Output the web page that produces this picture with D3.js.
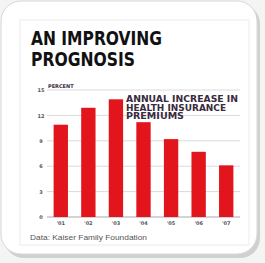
<!DOCTYPE html>
<html><head><meta charset="utf-8">
<script src="https://cdn.jsdelivr.net/npm/d3@7"></script>
<style>html,body{margin:0;padding:0;background:#f4f4f2;}svg{display:block;}</style>
</head><body>
<script>
const categories = ["'01","'02","'03","'04","'05","'06","'07"];
const values = [10.9, 12.9, 13.9, 11.2, 9.2, 7.7, 6.1];
const yTicks = [0, 3, 6, 9, 12, 15];
const titleLines = ["AN IMPROVING", "PROGNOSIS"];
const noteLines = ["ANNUAL INCREASE IN", "HEALTH INSURANCE", "PREMIUMS"];
const source = "Data: Kaiser Family Foundation";

const W = 265, H = 263;
const svg = d3.select("body").append("svg").attr("width", W).attr("height", H);

// card
svg.append("rect").attr("x", 4).attr("y", 4).attr("width", 256).attr("height", 254)
  .attr("rx", 20).attr("fill", "#b8b8b8").attr("opacity", 0.6);
svg.append("rect").attr("x", 1).attr("y", 1).attr("width", 256).attr("height", 253)
  .attr("rx", 20).attr("fill", "#ffffff").attr("stroke", "#d8d8d8").attr("stroke-width", 1);
svg.append("rect").attr("x", 20).attr("y", 20).attr("width", 229).attr("height", 225)
  .attr("fill", "none").attr("stroke", "#ececec").attr("stroke-width", 1);

// title
svg.append("g").selectAll("text").data(titleLines).join("text")
  .attr("x", 31).attr("y", (d, i) => 44.5 + i * 21.5)
  .attr("font-family", "'Liberation Sans Narrow','DejaVu Sans Condensed','Roboto Condensed',sans-serif")
  .attr("font-weight", "bold").attr("font-size", 19.5).attr("fill", "#111")
  .attr("textLength", (d, i) => i === 0 ? 131 : 104).attr("lengthAdjust", "spacingAndGlyphs")
  .text(d => d);

const x = d3.scaleBand().domain(categories).range([47, 240]).paddingInner(0.48).paddingOuter(0.24);
const y = d3.scaleLinear().domain([0, 15]).range([217, 90]);

// gridlines
svg.append("g").selectAll("line").data(yTicks).join("line")
  .attr("x1", 47).attr("x2", 240)
  .attr("y1", d => y(d)).attr("y2", d => y(d))
  .attr("stroke", d => d === 0 ? "#9a8f96" : "#cfc8cc").attr("stroke-width", d => d === 0 ? 0.8 : 0.7);

// bars
svg.append("g").selectAll("rect").data(values).join("rect")
  .attr("x", (d, i) => x(categories[i])).attr("width", x.bandwidth())
  .attr("y", d => y(d)).attr("height", d => y(0) - y(d))
  .attr("fill", "#e2141c");

// y axis labels
const yAxis = d3.axisLeft(y).tickValues(yTicks).tickSize(0).tickPadding(0);
const ga = svg.append("g").attr("transform", "translate(41,0)").call(yAxis);
ga.select(".domain").remove();
ga.selectAll("text").attr("font-family", "'DejaVu Sans',sans-serif").attr("font-weight", "bold")
  .attr("font-size", 5).attr("fill", "#555").attr("text-anchor", "middle");

// x axis labels
const xAxis = d3.axisBottom(x).tickSize(0).tickPadding(0);
const gx = svg.append("g").attr("transform", "translate(0,221)").call(xAxis);
gx.select(".domain").remove();
gx.selectAll("text").attr("font-family", "'DejaVu Sans',sans-serif").attr("font-weight", "bold")
  .attr("font-size", 5).attr("fill", "#555");

// PERCENT label
svg.append("text").attr("x", 48).attr("y", 88).text("PERCENT")
  .attr("font-family", "'DejaVu Sans',sans-serif").attr("font-weight", "bold")
  .attr("font-size", 5).attr("fill", "#3a2a40");

// note
svg.append("g").selectAll("text").data(noteLines).join("text")
  .attr("x", 126).attr("y", (d, i) => 102 + i * 8.7)
  .attr("font-family", "'DejaVu Sans',sans-serif").attr("font-weight", "bold")
  .attr("font-size", 8).attr("fill", "#3a2a40")
  .attr("textLength", (d, i) => [112, 100, 58][i]).attr("lengthAdjust", "spacingAndGlyphs")
  .text(d => d);

// source
svg.append("text").attr("x", 30).attr("y", 240).text(source)
  .attr("font-family", "'Liberation Sans',sans-serif").attr("font-size", 7.2).attr("fill", "#555")
  .attr("textLength", 117).attr("lengthAdjust", "spacingAndGlyphs");
</script>
</body></html>
